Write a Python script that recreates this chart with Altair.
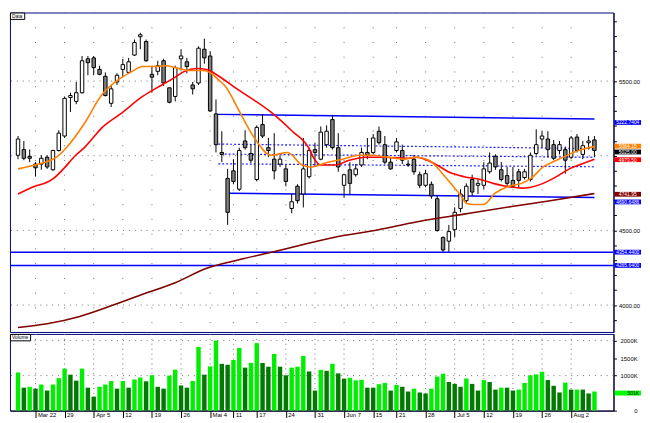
import altair as alt
import pandas as pd

# ---------------- data ----------------
opens = [5003, 5041, 4996, 4944, 4944, 4990, 4906, 5035, 5132, 5390,
         5364, 5422, 5649, 5655, 5578, 5532, 5351, 5494, 5578, 5558,
         5674, 5797, 5765, 5545, 5565, 5636, 5455, 5397, 5649, 5629,
         5474, 5487, 5713, 5668, 5280, 5022, 4848, 4899, 4776, 5099,
         5015, 4841, 5209, 5054, 4977, 4944, 4912, 4647, 4796, 4744,
         4860, 5041, 4977, 5074, 5242, 5054, 4802, 4906, 4873, 4938,
         5022, 5022, 5164, 5074, 4957, 5035, 5035, 4944, 4977, 4873,
         4802, 4809, 4712, 4453, 4428, 4505, 4647, 4699, 4841, 4802,
         4802, 4893, 4996, 4906, 4867, 4835, 4893, 4854, 4841, 5015,
         5112, 5112, 5074, 5035, 5041, 4990, 5125, 5009, 5087, 5106]
highs = [5132, 5099, 5041, 4957, 5003, 5003, 5041, 5171, 5397, 5422,
         5494, 5668, 5668, 5668, 5603, 5558, 5474, 5552, 5649, 5655,
         5778, 5823, 5778, 5603, 5636, 5649, 5455, 5603, 5713, 5655,
         5494, 5733, 5784, 5700, 5377, 5164, 4912, 4977, 5054, 5171,
         5074, 5203, 5280, 5119, 5151, 5003, 4938, 4744, 4809, 5119,
         5054, 5087, 5196, 5203, 5274, 5151, 4880, 4957, 4944, 5054,
         5119, 5145, 5196, 5132, 4990, 5119, 5074, 4970, 5003, 4893,
         4906, 4828, 4731, 4460, 4537, 4654, 4776, 4815, 4873, 4841,
         4957, 5022, 5009, 4957, 4925, 4925, 4912, 4912, 5022, 5177,
         5164, 5164, 5106, 5099, 5061, 5132, 5145, 5099, 5132, 5132]
lows = [4977, 4970, 4957, 4860, 4906, 4912, 4899, 5028, 5119, 5293,
        5345, 5416, 5539, 5539, 5539, 5397, 5326, 5474, 5526, 5552,
        5668, 5713, 5629, 5422, 5539, 5468, 5351, 5364, 5571, 5552,
        5410, 5474, 5616, 5293, 5022, 4957, 4537, 4809, 4764, 5041,
        4951, 4828, 5119, 4990, 4841, 4925, 4796, 4615, 4680, 4654,
        4848, 4925, 4970, 5054, 5041, 4893, 4718, 4744, 4860, 4925,
        4977, 5009, 5074, 4944, 4906, 5022, 4944, 4925, 4873, 4783,
        4789, 4712, 4492, 4357, 4357, 4453, 4621, 4686, 4731, 4744,
        4776, 4880, 4906, 4828, 4796, 4783, 4783, 4841, 4828, 5003,
        5054, 4990, 4970, 5009, 4880, 4977, 5022, 4977, 5041, 4990]
closes = [5112, 4983, 4983, 4919, 4983, 4925, 5035, 5151, 5384, 5403,
          5422, 5636, 5623, 5590, 5545, 5403, 5448, 5539, 5610, 5629,
          5758, 5810, 5636, 5526, 5603, 5487, 5358, 5590, 5668, 5597,
          5448, 5720, 5655, 5300, 5074, 5009, 4621, 4828, 5035, 5054,
          4970, 5190, 5132, 5035, 4899, 4977, 4828, 4692, 4699, 4912,
          5035, 5022, 5158, 5164, 5054, 4925, 4873, 4815, 4912, 5022,
          5003, 5119, 5087, 4957, 4912, 5093, 4970, 4938, 4893, 4802,
          4880, 4731, 4499, 4369, 4492, 4621, 4744, 4796, 4757, 4815,
          4912, 4951, 4925, 4841, 4815, 4796, 4835, 4893, 5003, 5074,
          5132, 5041, 4983, 5074, 4970, 5119, 5035, 5067, 5099, 5035]

volumes = [1090, 655, 680, 627, 745, 573, 745, 927, 1200, 1027,
           855, 1200, 655, 400, 680, 745, 845, 627, 845, 655,
           890, 945, 836, 1010, 680, 627, 1000, 1170, 718, 655,
           845, 1818, 1027, 1263, 2000, 1336, 1309, 1445, 1790, 1227,
           1363, 1927, 1363, 1254, 1618, 1254, 1009, 1227, 1254, 1563,
           1118, 573, 1163, 1136, 1336, 1063, 909, 936, 863, 881,
           655, 655, 754, 790, 573, 736, 681, 545, 627, 518,
           490, 627, 972, 1054, 818, 763, 681, 918, 763, 573,
           872, 818, 600, 655, 655, 573, 600, 790, 1009, 1036,
           1109, 872, 709, 518, 800, 600, 600, 600, 490, 545]
vol_up = [1, 0, 1, 0, 1, 0, 1, 1, 1, 0,
          0, 1, 0, 0, 1, 1, 1, 0, 1, 0,
          1, 1, 0, 1, 0, 0, 1, 1, 0, 0,
          1, 1, 0, 1, 1, 0, 0, 1, 1, 0,
          1, 1, 0, 0, 1, 0, 0, 1, 1, 1,
          0, 0, 1, 0, 1, 0, 0, 1, 1, 1,
          0, 0, 1, 1, 0, 1, 0, 0, 1, 0,
          0, 1, 1, 1, 0, 0, 0, 1, 0, 0,
          1, 0, 0, 1, 0, 0, 1, 1, 1, 1,
          1, 0, 0, 0, 1, 0, 1, 0, 0, 1]

# moving averages (sampled along the drawn curves)
ma_short_i = [0, 2.9, 6.6, 8.3, 11.4, 14.3, 17.6, 19.3, 21.4, 23.7, 25.3, 27.0, 29.4, 31.9,
              32.9, 34.5, 35.7, 37.8, 40.6, 43.5, 46.3, 48.8, 50.4, 53.2, 55.8, 58.6, 60.7,
              63.5, 66.3, 68.4, 70.6, 72.9, 75.0, 76.1, 77.1, 78.3, 79.9, 82.0, 84.3, 86.5,
              88.1, 90.2, 92.5, 94.7, 96.8, 99]
ma_short_v = [4912, 4938, 4990, 5054, 5216, 5403, 5519, 5558, 5597, 5597, 5603, 5590, 5571, 5571,
              5558, 5506, 5461, 5313, 5119, 5003, 5022, 4938, 4925, 4957, 4977, 5003, 5003,
              4990, 4977, 4990, 4970, 4880, 4783, 4731, 4680, 4673, 4673, 4751, 4796, 4815,
              4848, 4925, 4970, 5009, 5041, 5061]
ma_mid_i = [0, 2.9, 5.0, 6.1, 7.8, 9.9, 11.4, 13.0, 14.3, 17.6, 21.4, 24.7, 27.0, 28.6, 30.7,
            32.4, 34.5, 37.8, 43.4, 47.1, 49.9, 50.9, 52.0, 54.5, 56.9, 59.8, 63.0, 67.3, 68.4,
            71.7, 73.9, 76.6, 79.4, 81.6, 84.8, 86.5, 88.1, 90.2, 92.5, 94.7, 96.8, 99]
ma_mid_v = [4744, 4796, 4822, 4848, 4912, 5003, 5054, 5125, 5183, 5280, 5397, 5474, 5526, 5565,
            5584, 5578, 5532, 5442, 5293, 5164, 5054, 4977, 4938, 4938, 4970, 4990, 4990, 4983,
            4990, 4944, 4893, 4860, 4841, 4815, 4789, 4783, 4789, 4815, 4860, 4912, 4944, 4977]
ma_long_i = [0, 5.0, 10.6, 16.0, 21.4, 27.0, 32.4, 38.1, 43.9, 54.2, 61.9, 68.4, 76.6, 84.8, 91.4, 99]
ma_long_v = [3850, 3875, 3924, 3995, 4072, 4150, 4247, 4305, 4357, 4453, 4505, 4557, 4609, 4660,
             4699, 4747]

# trend / channel lines (start and end points)
resist_i, resist_v = [34.2, 99], [5277, 5246]
support_i, support_v = [36.0, 99], [4749, 4720]
chan_hi_i, chan_hi_v = [34.4, 99], [5078, 5048]
chan_mid_i, chan_mid_v = [35.5, 99], [5011, 4990]
chan_lo_i, chan_lo_v = [34.4, 99], [4946, 4926]
levels = [4354.44, 4265.64]

# value tags on the price scale
tag_values = [5222.74, 5064.0, 5025.0, 4973.5, 4741.95, 4690.65, 4354.44, 4265.64]
tag_texts = ["5222.7404", "5064.15", "5025.00", "4973.50", "4741.95", "4690.6486",
             "4354.4400", "4265.6400"]
tag_kinds = ["trend", "short", "last", "mid", "long", "trend", "trend", "trend"]

vol_tag_value = [501]
vol_tag_text = ["501K"]

price_grid = [4000, 4500, 5000, 5500]
price_ticks = list(range(3900, 6000, 100))
price_labels = [4000, 4500, 5500]
vol_grid = [1000, 2000]
vol_ticks = [0, 500, 1000, 1500, 2000]

tick_idx = [3, 8, 13, 18, 23, 28, 33, 37, 41, 46, 51, 56, 61, 65, 70, 75, 80, 85, 90, 95]
tick_lbl = ["Mar 22", "29", "Apr 5", "12", "19", "26", "Mai 4", "11", "17", "24", "31",
            "Jun 7", "15", "21", "28", "Jul 5", "12", "19", "26", "Aug 2"]

# ---------------- build ----------------
W, HP, HV = 614, 325, 78
FONT = "Liberation Sans"
n = len(opens)
bars = pd.DataFrame({"i": list(range(n)), "o": opens, "h": highs, "l": lows, "c": closes})
vol = pd.DataFrame({"i": list(range(n)), "vol": volumes, "up": vol_up})

xs = alt.Scale(domain=[-0.54, 101.43], nice=False, zero=False)
ys = alt.Scale(domain=[3820, 5959], nice=False, zero=False)
vs = alt.Scale(domain=[0, 2190], nice=False, zero=False)

lab_list = ",".join(str(v) for v in price_labels)
y_axis = alt.Axis(orient="right", values=price_ticks,
                  labelExpr=f"indexof([{lab_list}], datum.value) >= 0 ? format(datum.value, '.2f') : ''",
                  tickSize=3, tickColor="black", domainColor="black", labelColor="black",
                  labelFontSize=6, labelFont=FONT, labelPadding=2, grid=False, title=None,
                  labelOverlap=False, labelFlush=False)

X = lambda f="i:Q": alt.X(f, scale=xs, axis=None)
Y = lambda f: alt.Y(f, scale=ys, axis=y_axis)

vgrid_df = pd.DataFrame({"i": tick_idx})
pgrid = alt.Chart(pd.DataFrame({"v": price_grid})).mark_rule(
    color="#707070", strokeDash=[1, 5], strokeWidth=1).encode(y=Y("v:Q"))
vgrid = alt.Chart(vgrid_df).mark_rule(
    color="#707070", strokeDash=[1, 14], strokeWidth=1).encode(x=X())

lvl = alt.Chart(pd.DataFrame({"v": levels})).mark_rule(color="#0000ff", strokeWidth=1.5).encode(y=Y("v:Q"))

def seg(iv, vv, name):
    return pd.DataFrame({"i": iv, "v": vv, "s": [name] * len(iv)})

solid = pd.concat([seg(resist_i, resist_v, "r"), seg(support_i, support_v, "s")])
dotted = pd.concat([seg(chan_hi_i, chan_hi_v, "h"), seg(chan_mid_i, chan_mid_v, "m"),
                    seg(chan_lo_i, chan_lo_v, "l")])
solid_l = alt.Chart(solid).mark_line(color="#0000ff", strokeWidth=1.5).encode(
    x=X(), y=Y("v:Q"), detail="s:N")
dotted_l = alt.Chart(dotted).mark_line(color="#2020ff", strokeWidth=1.2, strokeDash=[2, 2]).encode(
    x=X(), y=Y("v:Q"), detail="s:N")

wick = alt.Chart(bars).mark_rule(color="black", strokeWidth=1).encode(x=X(), y=Y("l:Q"), y2="h:Q")
body = alt.Chart(bars).mark_bar(size=3.5, stroke="black", strokeWidth=1).encode(
    x=X(), y=Y("o:Q"), y2="c:Q",
    fill=alt.condition("datum.c >= datum.o", alt.value("white"), alt.value("#808080")))

def ma(iv, vv, color, w=1.6):
    return alt.Chart(pd.DataFrame({"i": iv, "v": vv})).mark_line(
        color=color, strokeWidth=w, interpolate="monotone").encode(x=X(), y=Y("v:Q"))

ma_long = ma(ma_long_i, ma_long_v, "#800000")
ma_mid = ma(ma_mid_i, ma_mid_v, "#ff0000")
ma_short = ma(ma_short_i, ma_short_v, "#ff8000")

kind_scale = alt.Scale(domain=["trend", "short", "last", "mid", "long"],
                       range=["#0000ff", "#ff8000", "#000000", "#ff0000", "#800000"])
tags = pd.DataFrame({"v": tag_values, "t": tag_texts, "k": tag_kinds})
tag_box = alt.Chart(tags).transform_calculate(
    top="datum.v + 16", bot="datum.v - 16").mark_rect().encode(
    x=alt.value(W + 1), x2=alt.value(W + 28), y=Y("top:Q"), y2="bot:Q",
    fill=alt.Fill("k:N", scale=kind_scale, legend=None))
tag_txt = alt.Chart(tags).mark_text(fontSize=5, font=FONT, color="white",
                                    align="center", baseline="middle").encode(
    x=alt.value(W + 14.5), y=Y("v:Q"), text="t:N")

data_df = pd.DataFrame({"t": ["Data"]})
data_box = alt.Chart(data_df).mark_rect(fill="white", stroke="black", strokeWidth=1).encode(
    x=alt.value(0.5), x2=alt.value(15), y=alt.value(0.5), y2=alt.value(7))
data_txt = alt.Chart(data_df).mark_text(fontSize=5, font=FONT, align="left", baseline="top",
                                        color="black").encode(
    x=alt.value(2), y=alt.value(1.2), text="t:N")

price = alt.layer(pgrid, vgrid, lvl, dotted_l, solid_l, wick, body, ma_long, ma_mid, ma_short,
                  tag_box, tag_txt, data_box, data_txt).properties(width=W, height=HP)

# ---- volume panel ----
xlab = " : ".join(f"datum.value == {i} ? '{l}'" for i, l in zip(tick_idx, tick_lbl)) + " : ''"
x_axis = alt.Axis(values=tick_idx, labelExpr=xlab, labelAlign="left", labelBaseline="top",
                  tickSize=7, tickColor="black", labelPadding=-6, labelOffset=2,
                  labelFontSize=6, labelFont=FONT, labelColor="black", domainColor="black",
                  grid=False, title=None, labelOverlap=False, labelFlush=False, labelBound=False)
v_axis = alt.Axis(orient="right", values=vol_ticks,
                  labelExpr="datum.value == 500 ? '' : (datum.value == 0 ? '0' : datum.value + 'K')",
                  tickSize=3, tickColor="black", domainColor="black", labelColor="black",
                  labelAlign="right", labelPadding=21, labelFontSize=6, labelFont=FONT,
                  grid=False, title=None, labelOverlap=False, labelFlush=False)
VX = lambda f="i:Q": alt.X(f, scale=xs, axis=x_axis)
VY = lambda f: alt.Y(f, scale=vs, axis=v_axis)

v_vgrid = alt.Chart(vgrid_df).mark_rule(color="#707070", strokeDash=[1, 4], strokeWidth=1).encode(x=VX())
v_hgrid = alt.Chart(pd.DataFrame({"v": vol_grid})).mark_rule(
    color="#707070", strokeDash=[1, 5], strokeWidth=1).encode(y=VY("v:Q"))
v_bars = alt.Chart(vol).mark_bar(size=4.5).encode(
    x=VX(), y=VY("vol:Q"),
    color=alt.condition("datum.up == 1", alt.value("#00ee00"), alt.value("#007a00")))
vtag = pd.DataFrame({"v": vol_tag_value, "t": vol_tag_text})
v_tag_box = alt.Chart(vtag).transform_calculate(
    top="datum.v + 70", bot="datum.v - 70").mark_rect(fill="#00ff00").encode(
    x=alt.value(W + 1), x2=alt.value(W + 28), y=VY("top:Q"), y2="bot:Q")
v_tag_txt = alt.Chart(vtag).mark_text(fontSize=5, font=FONT, color="black",
                                      align="right", baseline="middle").encode(
    x=alt.value(W + 26), y=VY("v:Q"), text="t:N")
vol_df = pd.DataFrame({"t": ["Volume"]})
vol_box = alt.Chart(vol_df).mark_rect(fill="white", stroke="black", strokeWidth=1).encode(
    x=alt.value(0.5), x2=alt.value(21), y=alt.value(0.5), y2=alt.value(7))
vol_txt = alt.Chart(vol_df).mark_text(fontSize=5, font=FONT, align="left", baseline="top",
                                      color="black").encode(
    x=alt.value(2), y=alt.value(1.2), text="t:N")

volume = alt.layer(v_vgrid, v_hgrid, v_bars, v_tag_box, v_tag_txt, vol_box, vol_txt).properties(
    width=W, height=HV)

chart = alt.vconcat(price, volume, spacing=0).properties(
    padding={"left": 0, "top": 0, "right": 0, "bottom": 0}, background="white"
).configure_view(stroke="#000080", strokeWidth=1)

chart.save("out.html", embed_options={"renderer": "svg", "actions": False})
